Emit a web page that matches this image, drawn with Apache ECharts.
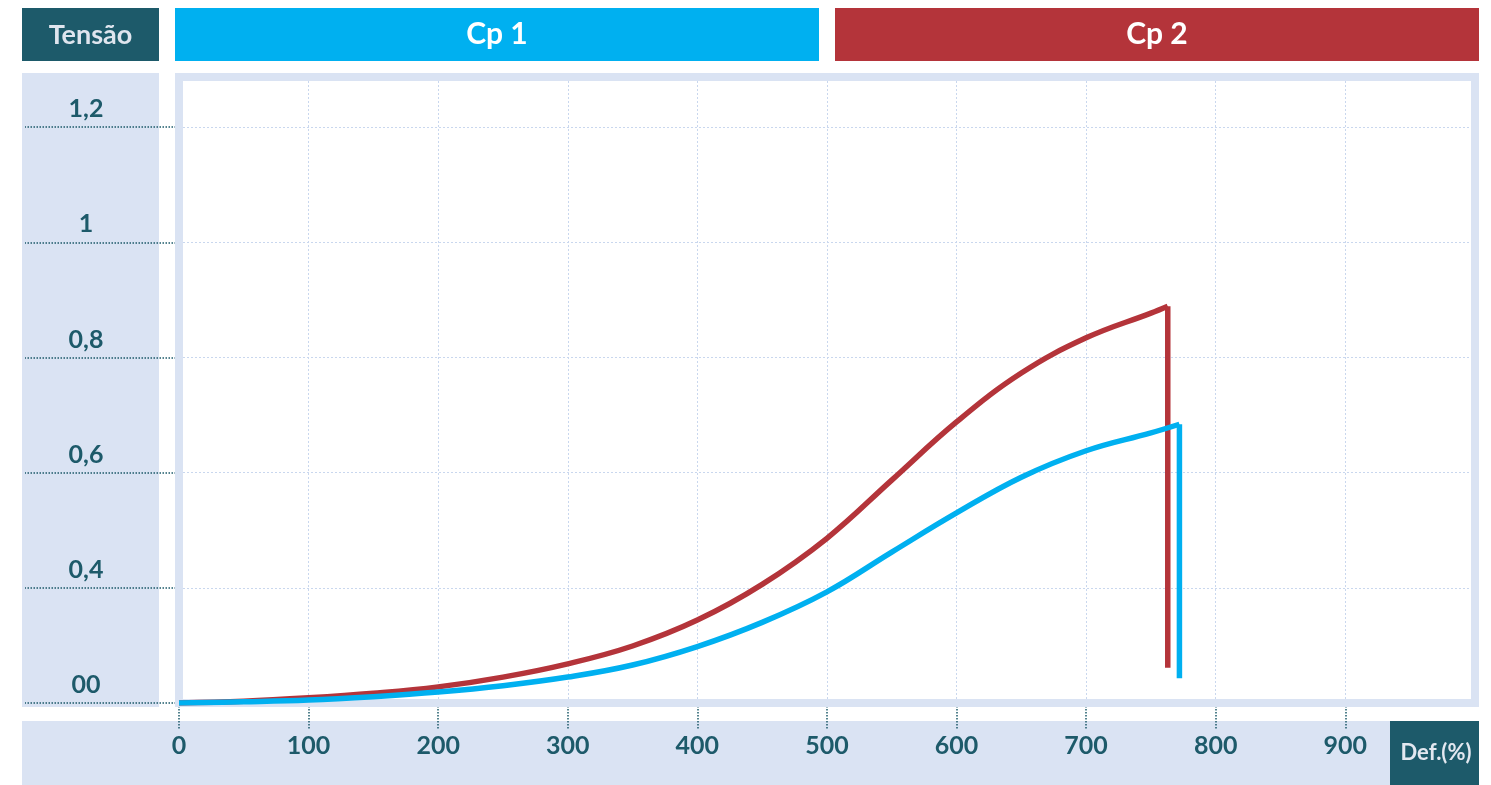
<!DOCTYPE html>
<html>
<head>
<meta charset="utf-8">
<script src="https://cdn.jsdelivr.net/npm/echarts@6/dist/echarts.min.js"></script>
<style>
html,body{margin:0;padding:0;background:#ffffff;}
#chart{width:1491px;height:785px;}
</style>
</head>
<body>
<div id="chart"></div>
<script>
// ---- data ----
const seriesNames = ['Cp 1', 'Cp 2'];
const yTitle = 'Tensão';
const xTitle = 'Def.(%)';

// Cp 1 (cyan): deformation (%) and tension; last point is the rupture drop
const cp1Def     = [0, 50, 100, 150, 200, 250, 300, 350, 400, 450, 500, 550, 600, 650, 700, 750, 772, 772];
const cp1Tensao  = [0, 0.002, 0.005, 0.011, 0.019, 0.030, 0.045, 0.066, 0.098, 0.140, 0.193, 0.262, 0.330, 0.392, 0.438, 0.469, 0.484, 0.043];

// Cp 2 (red)
const cp2Def     = [0, 50, 100, 150, 200, 250, 300, 350, 400, 450, 500, 550, 600, 650, 700, 750, 763, 763];
const cp2Tensao  = [0, 0.003, 0.009, 0.017, 0.028, 0.045, 0.068, 0.099, 0.144, 0.206, 0.286, 0.387, 0.488, 0.573, 0.634, 0.677, 0.689, 0.061];

const xTickValues = [0, 100, 200, 300, 400, 500, 600, 700, 800, 900];
const yTickValues = [0, 0.2, 0.4, 0.6, 0.8, 1.0];
const yTickLabels = ['00', '0,4', '0,6', '0,8', '1', '1,2'];

// ---- styling ----
const TEAL = '#1d5a6a';
const LIGHT = '#dae3f3';
const CYAN = '#00b0f0';
const RED = '#b4343a';
const GRIDC = '#c9d7ee';
const FONT = 'Lato';

function pairs(xs, ys, from, to) {
  const out = [];
  for (let i = from; i < to; i++) out.push([xs[i], ys[i]]);
  return out;
}

function lineSeries(name, xs, ys, color, z) {
  const n = xs.length;
  return [
    {
      type: 'line', name: name, data: pairs(xs, ys, 0, n - 1),
      smooth: 0.4, showSymbol: false, symbol: 'none', z: z,
      lineStyle: { color: color, width: 5.5, cap: 'butt', join: 'miter' }
    },
    {
      type: 'line', name: name, data: pairs(xs, ys, n - 2, n),
      smooth: false, showSymbol: false, symbol: 'none', z: z,
      lineStyle: { color: color, width: 5.5, cap: 'butt', join: 'miter' }
    }
  ];
}

const labelFont = { fontFamily: FONT, fontWeight: 'bold', fontSize: 25, color: TEAL };

const chart = echarts.init(document.getElementById('chart'), null, { renderer: 'canvas' });

chart.setOption({
  animation: false,
  backgroundColor: '#ffffff',
  grid: { left: 179, top: 81, width: 1292, height: 622, containLabel: false },
  xAxis: {
    type: 'value', min: 0, max: 997, interval: 50,
    axisLine: { show: false },
    axisTick: { show: true, customValues: xTickValues, length: 27,
      lineStyle: { color: TEAL, type: 'dotted', width: 1.5 } },
    axisLabel: Object.assign({ customValues: xTickValues, margin: 43, verticalAlign: 'middle',
      formatter: v => String(v) }, labelFont),
    splitLine: { show: true, lineStyle: { color: GRIDC, type: [2, 2], width: 1 } }
  },
  yAxis: {
    type: 'value', min: 0, max: 1.08, interval: 0.1,
    axisLine: { show: false },
    axisTick: { show: true, customValues: yTickValues, length: 154,
      lineStyle: { color: TEAL, type: 'dotted', width: 1.5 } },
    axisLabel: Object.assign({ customValues: yTickValues, margin: 93, align: 'center',
      verticalAlign: 'middle', lineHeight: 36,
      formatter: v => {
        const i = yTickValues.findIndex(t => Math.abs(t - v) < 1e-6);
        return (i >= 0 ? yTickLabels[i] : '') + '\n ';
      } }, labelFont),
    splitLine: { show: true, lineStyle: { color: GRIDC, type: [2, 2], width: 1 } }
  },
  graphic: { elements: [
    // header boxes
    { type: 'rect', z: -10, shape: { x: 22, y: 8, width: 137, height: 53 }, style: { fill: TEAL } },
    { type: 'text', z: -9, x: 90.5, y: 35, style: { text: yTitle, fill: '#dfe5ee', fontFamily: FONT,
        fontWeight: 'bold', fontSize: 27, align: 'center', verticalAlign: 'middle' } },
    { type: 'rect', z: -10, shape: { x: 175, y: 8, width: 644, height: 53 }, style: { fill: CYAN } },
    { type: 'text', z: -9, x: 497, y: 34, style: { text: seriesNames[0], fill: '#ffffff', fontFamily: FONT,
        fontWeight: 'bold', fontSize: 30, align: 'center', verticalAlign: 'middle' } },
    { type: 'rect', z: -10, shape: { x: 835, y: 8, width: 644, height: 53 }, style: { fill: RED } },
    { type: 'text', z: -9, x: 1157, y: 34, style: { text: seriesNames[1], fill: '#ffffff', fontFamily: FONT,
        fontWeight: 'bold', fontSize: 30, align: 'center', verticalAlign: 'middle' } },
    // left panel
    { type: 'rect', z: -10, shape: { x: 22, y: 73, width: 137, height: 634 }, style: { fill: LIGHT } },
    // bottom panel
    { type: 'rect', z: -10, shape: { x: 22, y: 721, width: 1368, height: 64 }, style: { fill: LIGHT } },
    { type: 'rect', z: -10, shape: { x: 1390, y: 721, width: 89, height: 64 }, style: { fill: TEAL } },
    { type: 'text', z: -9, x: 1436, y: 753, style: { text: xTitle, fill: '#e3e8f0', fontFamily: FONT,
        fontWeight: 'bold', fontSize: 22, align: 'center', verticalAlign: 'middle' } },
    // plot frame (border only)
    { type: 'rect', z: 1, shape: { x: 179, y: 77, width: 1296, height: 626 },
      style: { fill: 'none', stroke: LIGHT, lineWidth: 8 } }
  ] },
  series: [].concat(
    lineSeries(seriesNames[1], cp2Def, cp2Tensao, RED, 2),
    lineSeries(seriesNames[0], cp1Def, cp1Tensao, CYAN, 3)
  )
});
</script>
</body>
</html>
